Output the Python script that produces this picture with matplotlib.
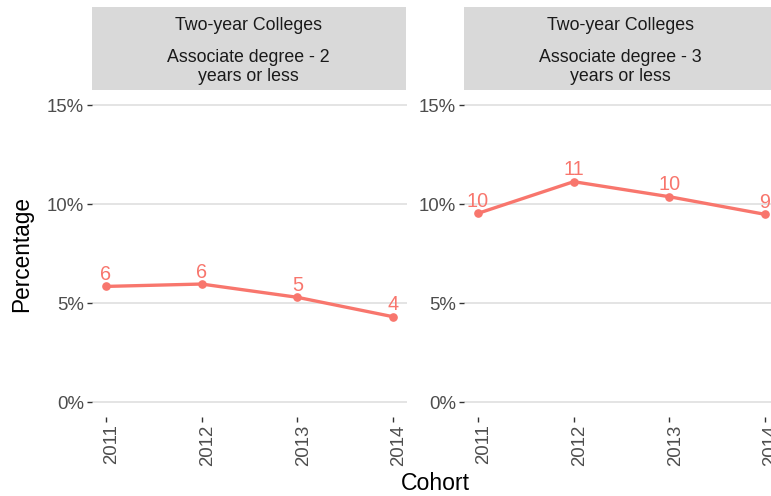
import matplotlib
matplotlib.use("Agg")
import matplotlib.pyplot as plt
from matplotlib.patches import Rectangle
from matplotlib.ticker import FuncFormatter
from matplotlib.transforms import ScaledTranslation

plt.rcParams['font.family'] = ['Liberation Sans', 'DejaVu Sans']

cohorts = [2011, 2012, 2013, 2014]
group_title = "Two-year Colleges"
panel_titles = ["Associate degree - 2\nyears or less", "Associate degree - 3\nyears or less"]
pct_2yr = [5.84, 5.96, 5.29, 4.31]
pct_3yr = [9.53, 11.13, 10.37, 9.48]
series = [pct_2yr, pct_3yr]
yticks = [0, 5, 10, 15]

W, H = 771, 496
line_col = "#F8766D"

fig = plt.figure(figsize=(W / 100, H / 100), dpi=100)
fig.patch.set_facecolor("white")


def px_axes(x0, y0, x1, y1):
    # pixel box (top-left origin) -> figure axes
    return fig.add_axes([x0 / W, 1 - y1 / H, (x1 - x0) / W, (y1 - y0) / H])


panel_x = [(91.6, 407.4), (463.6, 779.4)]
top, bottom = 90.2, 416.9

for i, (x0, x1) in enumerate(panel_x):
    ax = px_axes(x0, top, x1, bottom)
    ax.set_facecolor("white")
    for s in ax.spines.values():
        s.set_visible(False)
    ax.set_xlim(2010.85, 2014.15)
    ax.set_ylim(-0.75, 15.75)
    ax.set_yticks(yticks)
    ax.yaxis.set_major_formatter(FuncFormatter(lambda v, p: f"{v:.0f}%"))
    ax.set_xticks(cohorts)
    ax.set_xticklabels([str(c) for c in cohorts], rotation=90)
    ax.grid(axis="y", color="#DCDCDC", linewidth=1.1)
    ax.set_axisbelow(True)
    ax.tick_params(axis="both", colors="#333333", length=3.5, width=1.0,
                   labelsize=13.4, labelcolor="#4D4D4D", pad=2)
    shift = ScaledTranslation(6 / 100, 0, fig.dpi_scale_trans)
    for lab in ax.get_xticklabels():
        lab.set_transform(lab.get_transform() + shift)

    vals = series[i]
    ax.plot(cohorts, vals, color=line_col, linewidth=2.4, marker="o",
            markersize=5.2, clip_on=False, zorder=3)
    for c, v in zip(cohorts, vals):
        ax.annotate(f"{round(v):.0f}", (c, v), xytext=(0, 4.5),
                    textcoords="offset points", ha="center", va="baseline",
                    color=line_col, fontsize=14.3, annotation_clip=False)

    # strip header
    sx1 = min(x1, W + 10) - 1.5
    fig.patches.append(Rectangle((x0 / W, 1 - 90 / H), (sx1 - x0) / W, (90 - 7) / H,
                                 transform=fig.transFigure, facecolor="#D9D9D9",
                                 edgecolor="none", zorder=0))
    cx = (x0 + sx1) / 2 / W
    fig.text(cx, 1 - 25.5 / H, group_title, ha="center", va="center",
             fontsize=12.8, color="#1A1A1A")
    fig.text(cx, 1 - 67 / H, panel_titles[i], ha="center", va="center",
             fontsize=12.8, color="#1A1A1A", linespacing=1.12)

fig.text(435.5 / W, 1 - 484 / H, "Cohort", ha="center", va="center",
         fontsize=16.6, color="black")
fig.text(22 / W, 1 - 253.5 / H, "Percentage", ha="center", va="center",
         rotation=90, fontsize=16.3, color="black")

fig.savefig("out.png", dpi=100)
